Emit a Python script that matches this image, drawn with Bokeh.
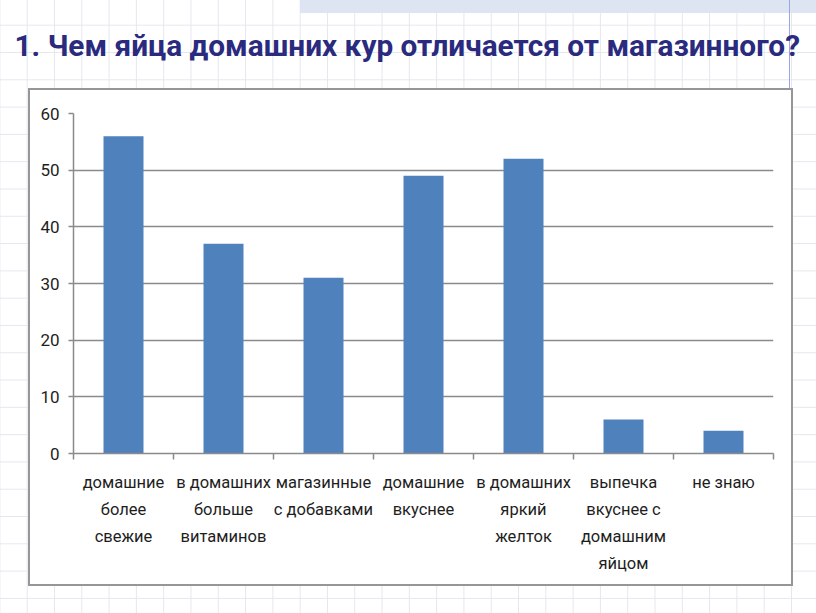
from bokeh.plotting import figure
from bokeh.models import Range1d, FixedTicker
from bokeh.embed import file_html
from bokeh.resources import INLINE

# ---- data ----
categories = [
    "домашние\nболее\nсвежие",
    "в домашних\nбольше\nвитаминов",
    "магазинные\nс добавками",
    "домашние\nвкуснее",
    "в домашних\nяркий\nжелток",
    "выпечка\nвкуснее с\nдомашним\nяйцом",
    "не знаю",
]
values = [56, 37, 31, 49, 52, 6, 4]
y_ticks = [0, 10, 20, 30, 40, 50, 60]
title_text = "1. Чем яйца домашних кур отличается от магазинного?"

# ---- layout ----
W, H = 816, 613
n = len(categories)
centers = [i + 0.5 for i in range(n)]
bounds = list(range(n + 1))

LABEL_FONT = "Roboto"
AXIS_GRAY = "#8a8a8a"

p = figure(width=W, height=H, output_backend="svg", toolbar_location=None,
           x_range=Range1d(0, n), y_range=Range1d(0, 60),
           min_border_left=73, min_border_right=43,
           min_border_top=113, min_border_bottom=160)
p.outline_line_color = None
p.background_fill_color = "white"
p.border_fill_color = None

# slide background: faint squared paper, chart box, top strip and thin line
p.styles = {
    "background-color": "white",
    "background-image": ", ".join([
        "linear-gradient(#9aa4e6, #9aa4e6)",          # thin vertical line
        "linear-gradient(#dde5f2, #dde5f2)",          # top strip
        "linear-gradient(#ffffff, #ffffff)",          # white chart box
        "linear-gradient(#969696, #969696)",          # chart box border
        "linear-gradient(to bottom, #e4e7ee 1px, transparent 1px)",
        "linear-gradient(to right, #e4e7ee 1px, transparent 1px)",
    ]),
    "background-position": "789px 0px, 300px 0px, 30px 90px, 28px 88px, 26.7px 24.7px, 26.7px 24.7px",
    "background-size": "1px 88px, 516px 13px, 761px 494px, 765px 498px, 27.3px 27.3px, 27.3px 27.3px",
    "background-repeat": "no-repeat, no-repeat, no-repeat, no-repeat, repeat, repeat",
}

# title (a trailing empty line lifts it well above the chart box)
p.title.text = title_text + "\n"
p.title.text_font = "Roboto"
p.title.text_font_style = "bold"
p.title.text_font_size = "29.8px"
p.title.text_color = "#2a2a7e"
p.title.text_line_height = 1.31
p.title.align = "left"
p.title.offset = 16 - 75
p.title.standoff = 10

# bars
p.vbar(x=centers, top=values, width=0.4, bottom=0,
       fill_color="#4f81bd", line_color=None)

# grid
p.xgrid.visible = False
p.ygrid.ticker = FixedTicker(ticks=y_ticks)
p.ygrid.grid_line_color = AXIS_GRAY
p.ygrid.grid_line_width = 1.5

# y axis
ya = p.yaxis[0]
ya.ticker = FixedTicker(ticks=y_ticks)
ya.axis_line_color = AXIS_GRAY
ya.axis_line_width = 1.5
ya.major_tick_line_color = AXIS_GRAY
ya.major_tick_line_width = 1.5
ya.major_tick_out = 5
ya.major_tick_in = 0
ya.minor_tick_line_color = None
ya.major_label_standoff = 9
ya.major_label_text_font = LABEL_FONT
ya.major_label_text_font_size = "17px"
ya.major_label_text_color = "#1e1e1e"

# x axis
xa = p.xaxis[0]
xa.ticker = FixedTicker(ticks=centers, minor_ticks=bounds)
xa.major_label_overrides = {c: lab for c, lab in zip(centers, categories)}
xa.axis_line_color = AXIS_GRAY
xa.axis_line_width = 1.5
xa.major_tick_line_color = None
xa.major_tick_out = 0
xa.major_tick_in = 0
xa.minor_tick_line_color = AXIS_GRAY
xa.minor_tick_line_width = 1.5
xa.minor_tick_out = 6
xa.minor_tick_in = 0
xa.major_label_standoff = 13
xa.major_label_text_font = LABEL_FONT
xa.major_label_text_font_size = "16.5px"
xa.major_label_text_line_height = 1.43
xa.major_label_text_color = "#1e1e1e"

open("out.html", "w").write(file_html(p, INLINE))
